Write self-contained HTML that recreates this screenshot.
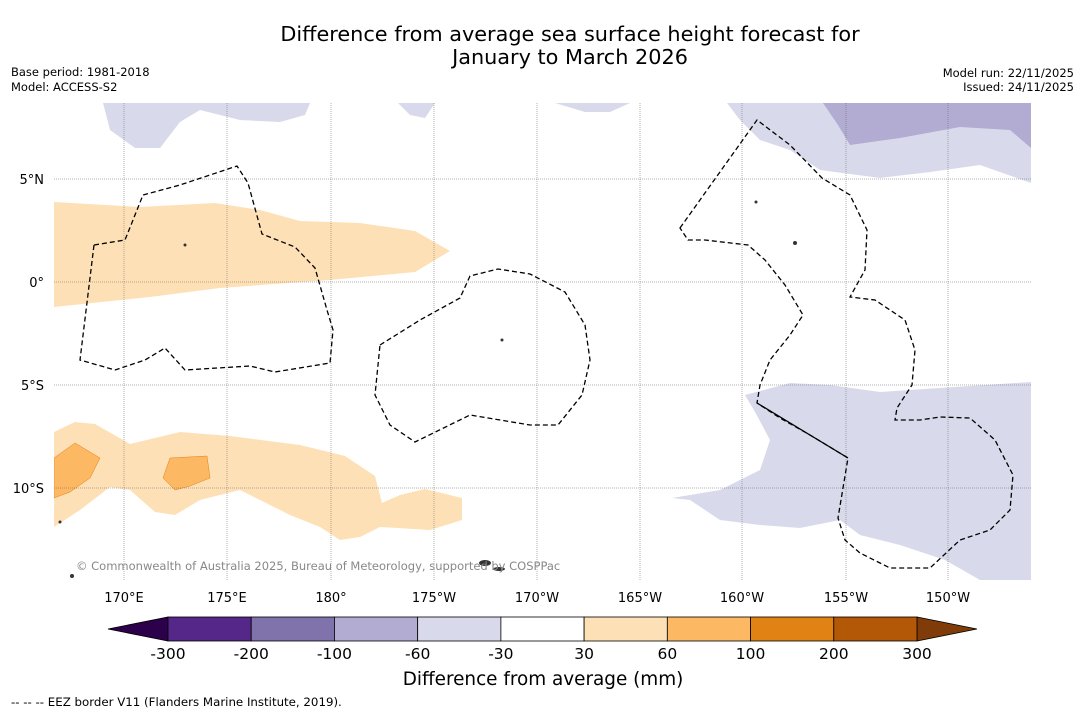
<!DOCTYPE html>
<html><head><meta charset="utf-8"><style>
body{margin:0;background:#fff;font-family:"Liberation Sans","DejaVu Sans",sans-serif;}
svg text{font-family:"DejaVu Sans","Liberation Sans",sans-serif;}
</style></head><body>
<svg width="1085" height="713" viewBox="0 0 1085 713">
<text x="570" y="41" text-anchor="middle" font-size="20.8">Difference from average sea surface height forecast for</text>
<text x="570" y="64" text-anchor="middle" font-size="20.8">January to March 2026</text>
<text x="11" y="76" font-size="11.5">Base period: 1981-2018</text>
<text x="11" y="91" font-size="11.5">Model: ACCESS-S2</text>
<text x="1074" y="77" font-size="11.5" text-anchor="end">Model run: 22/11/2025</text>
<text x="1074" y="91" font-size="11.5" text-anchor="end">Issued: 24/11/2025</text>
<g>
<clipPath id="mc"><rect x="54" y="103" width="977" height="477"/></clipPath>
<g clip-path="url(#mc)">
<path fill="#fee0b6" d="M54,202 L140,207 215,203 260,210 300,221 360,223 415,231 450,251 415,272 330,280 220,288 150,297 54,307Z"/>
<path fill="#fee0b6" d="M54,432 L75,422 95,424 130,444 180,432 230,436 300,445 345,456 375,476 382,503 400,495 425,489 462,498 462,520 430,530 380,527 360,537 340,540 320,527 290,515 240,490 200,500 175,515 155,512 130,490 110,487 80,510 54,527Z"/>
<path fill="#fdb863" stroke="#e08214" stroke-width="0.5" d="M54,458 L75,443 100,458 90,478 70,492 54,498Z"/>
<path fill="#fdb863" stroke="#e08214" stroke-width="0.5" d="M170,458 L207,456 210,478 190,486 175,490 163,478Z"/>
<path fill="#d8daeb" d="M103,103 L310,103 305,115 280,122 240,120 200,110 180,122 160,148 135,148 110,130Z"/>
<path fill="#d8daeb" d="M398,103 L435,103 425,118 410,115Z"/>
<path fill="#d8daeb" d="M555,103 L630,103 610,112 585,112Z"/>
<path fill="#d8daeb" d="M727,103 L1031,103 1031,183 980,165 930,172 880,178 820,170 790,150 760,140 740,120Z"/>
<path fill="#b2abd2" d="M823,103 L1031,103 1031,148 1010,130 960,127 900,138 850,145 838,125Z"/>
<path fill="#d8daeb" d="M745,395 L790,383 830,385 880,392 1031,382 1031,580 980,580 945,560 900,545 860,535 840,520 800,528 760,525 720,520 690,500 672,498 720,490 760,470 770,440 755,412Z"/>
<g stroke="#666" stroke-width="0.5" stroke-dasharray="1,1">
<line x1="124" y1="103" x2="124" y2="580"/><line x1="227" y1="103" x2="227" y2="580"/><line x1="331" y1="103" x2="331" y2="580"/><line x1="434" y1="103" x2="434" y2="580"/><line x1="537" y1="103" x2="537" y2="580"/><line x1="640" y1="103" x2="640" y2="580"/><line x1="742" y1="103" x2="742" y2="580"/><line x1="846" y1="103" x2="846" y2="580"/><line x1="948" y1="103" x2="948" y2="580"/>
<line x1="54" y1="179" x2="1031" y2="179"/><line x1="54" y1="282" x2="1031" y2="282"/><line x1="54" y1="385" x2="1031" y2="385"/><line x1="54" y1="488" x2="1031" y2="488"/>
</g>
<g fill="none" stroke="#000" stroke-width="1.3" stroke-dasharray="5,3">
<path d="M94,245 L125,240 143,195 180,185 237,166 248,183 262,234 295,247 315,268 327,310 333,330 330,363 275,372 250,366 185,370 165,348 145,360 115,370 80,360Z"/>
<path d="M380,345 L420,320 460,298 470,276 498,269 530,274 565,292 585,325 590,360 582,395 558,425 530,425 470,415 415,442 390,425 375,395Z"/>
<path d="M680,228 L757,120 790,145 822,178 850,195 867,230 865,270 850,297 875,300 905,320 915,350 912,385 897,408 895,420 920,420 940,417 970,418 995,440 1013,475 1010,510 990,530 960,540 930,568 890,568 860,553 845,540 838,518 848,458 810,435 780,418 757,403 760,385 770,360 790,335 803,315 785,285 765,260 748,245 705,240 688,240Z"/>
</g>
<line x1="757" y1="403" x2="848" y2="458" stroke="#000" stroke-width="1.3"/>
<g fill="#333">
<ellipse cx="485" cy="563" rx="6" ry="3"/><ellipse cx="499" cy="569" rx="6" ry="2"/><circle cx="72" cy="576" r="2"/><circle cx="60" cy="522" r="1.5"/><circle cx="185" cy="245" r="1.5"/><circle cx="795" cy="243" r="2"/><circle cx="756" cy="202" r="1.5"/><circle cx="502" cy="340" r="1.5"/>
</g>
</g>
</g>
<text x="76" y="570" font-size="11.5" fill="#888">© Commonwealth of Australia 2025, Bureau of Meteorology, supported by COSPPac</text>
<g font-size="13" text-anchor="end">
<text x="44" y="184">5°N</text><text x="44" y="287">0°</text><text x="44" y="390">5°S</text><text x="44" y="493">10°S</text>
</g>
<g font-size="13" text-anchor="middle">
<text x="124" y="602">170°E</text><text x="227" y="602">175°E</text><text x="331" y="602">180°</text><text x="434" y="602">175°W</text><text x="537" y="602">170°W</text><text x="640" y="602">165°W</text><text x="742" y="602">160°W</text><text x="846" y="602">155°W</text><text x="948" y="602">150°W</text>
</g>
<g id="cbar"></g>
<text x="543" y="685" text-anchor="middle" font-size="18.4">Difference from average (mm)</text>
<text x="11" y="706" font-size="11.8">-- -- -- EEZ border V11 (Flanders Marine Institute, 2019).</text>
</svg>
<script>
const levelLabels = ["-300","-200","-100","-60","-30","30","60","100","200","300"];
const binColors = ["#542788","#8073ac","#b2abd2","#d8daeb","#ffffff","#fee0b6","#fdb863","#e08214","#b35806"];
const extendColors = ["#2d004b","#7f3b08"];
const ns="http://www.w3.org/2000/svg", g=document.getElementById('cbar');
const x0=168,x1=917,y0=617,h=24,w=(x1-x0)/binColors.length;
function mk(t,a){const e=document.createElementNS(ns,t);for(const k in a)e.setAttribute(k,a[k]);g.appendChild(e);return e;}
const lt=mk('polygon',{points:`${x0},${y0} ${x0},${y0+h} 108,${y0+h/2}`,fill:extendColors[0],stroke:'#000','stroke-width':0.8});


const rt=mk('polygon',{points:`${x1},${y0} ${x1},${y0+h} 977,${y0+h/2}`,fill:extendColors[1],stroke:'#000','stroke-width':0.8});


binColors.forEach((c,i)=>{const r=mk('rect',{x:x0+i*w,y:y0,width:w,height:h,fill:c,stroke:'#000','stroke-width':0.8});

});
levelLabels.forEach((l,i)=>{const t=mk('text',{x:x0+i*w,y:659,'text-anchor':'middle','font-size':15.5});t.textContent=l;

});
</script>
</body></html>
